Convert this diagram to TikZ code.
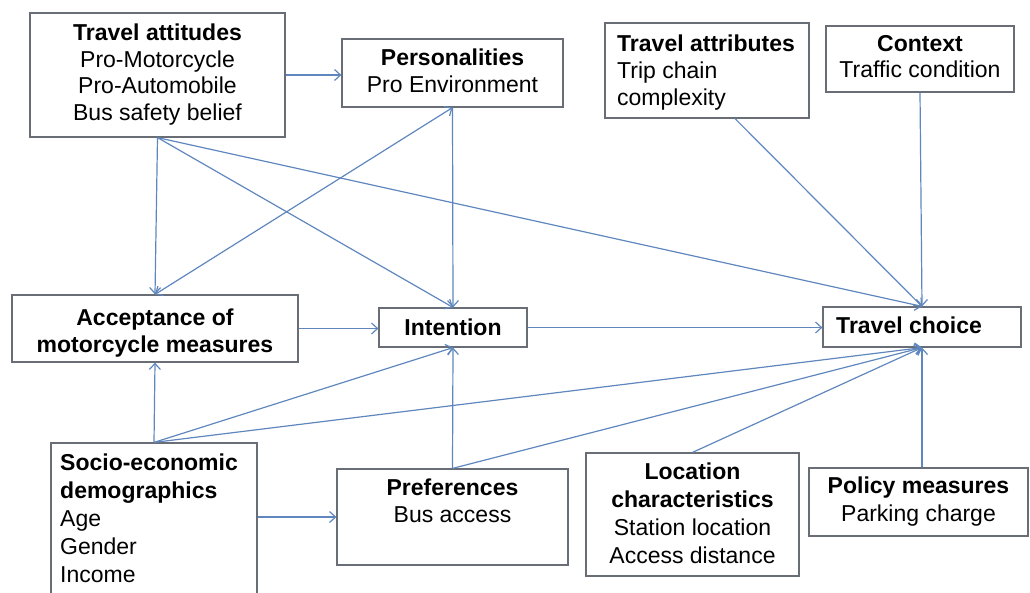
\documentclass[tikz,border=0pt]{standalone}
\usepackage{fontspec}
\setmainfont{Liberation Sans}
\usetikzlibrary{arrows.meta,calc}
\definecolor{arr}{RGB}{95,135,190}
\definecolor{bord}{RGB}{105,110,118}
\begin{document}
\begin{tikzpicture}[x=1pt,y=-1pt,
  >={Straight Barb[length=6pt,width=11pt]},
  box/.style={draw=bord,line width=1.2pt,rectangle,inner sep=0pt},
  txt/.style={inner sep=0pt,font=\fontsize{23}{26.7}\selectfont,text=black},
  txtb/.style={inner sep=0pt,font=\fontsize{23}{28}\selectfont,text=black},
  conn/.style={draw=arr,line width=1.2pt,->},
  conn2/.style={draw=arr,line width=1.2pt,<->},
]
\useasboundingbox (0,0) rectangle (1030,592);
\clip (0,0) rectangle (1030,592);

% boxes
\node[box,minimum width=255pt,minimum height=124pt] (ta) at (157.5,75) {};
\node[box,minimum width=221pt,minimum height=68pt] (pers) at (452.5,73) {};
\node[box,minimum width=204pt,minimum height=95pt] (tattr) at (707,70.5) {};
\node[box,minimum width=188pt,minimum height=66pt] (ctx) at (920,59) {};
\node[box,minimum width=286pt,minimum height=67pt] (acc) at (155,328.5) {};
\node[box,minimum width=148pt,minimum height=39pt] (int) at (453,327.5) {};
\node[box,minimum width=198pt,minimum height=40pt] (tc) at (922,327) {};
\node[box,minimum width=206pt,minimum height=177pt] (socio) at (154,531.5) {};
\node[box,minimum width=231pt,minimum height=96pt] (pref) at (452.5,517) {};
\node[box,minimum width=213pt,minimum height=123pt] (loc) at (692.5,514.5) {};
\node[box,minimum width=219pt,minimum height=68pt] (pol) at (918.5,502) {};

% texts
\node[txt,anchor=north,align=center] (ta-t) at (157.5,23.5)
  {\textbf{Travel attitudes}\\Pro-Motorcycle\\Pro-Automobile\\Bus safety belief};
\node[txt,anchor=north,align=center] (pers-t) at (452.5,48.5)
  {\textbf{Personalities}\\Pro Environment};
\node[txt,anchor=north west,align=left] (tattr-t) at (617,35)
  {\textbf{Travel attributes}\\Trip chain\\complexity};
\node[txt,anchor=north,align=center] (ctx-t) at (920,35)
  {\textbf{Context}\\Traffic condition};
\node[txt,anchor=north,align=center] (acc-t) at (155,308.5)
  {\textbf{Acceptance of}\\\textbf{motorcycle measures}};
\node[txt,anchor=north,align=center] (int-t) at (453,318.5)
  {\textbf{Intention}};
\node[txt,anchor=north west,align=left] (tc-t) at (836,316.5)
  {\textbf{Travel choice}};
\node[txtb,anchor=north west,align=left] (socio-t) at (60,453.5)
  {\textbf{Socio-economic}\\\textbf{demographics}\\Age\\Gender\\Income};
\node[txt,anchor=north,align=center] (pref-t) at (452.5,478.5)
  {\textbf{Preferences}\\Bus access};
\node[txtb,anchor=north,align=center] (loc-t) at (692.5,462.5)
  {\textbf{Location}\\\textbf{characteristics}\\Station location\\Access distance};
\node[txtb,anchor=north,align=center] (pol-t) at (918.5,476.5)
  {\textbf{Policy measures}\\Parking charge};

% connectors
\coordinate (tattrp) at ($(tattr.south)+(28,0)$);
\draw[conn] (ta.east) -- (ta.east -| pers.west);
\draw[conn] (ta.south) -- (acc.north);
\draw[conn] (ta.south) -- (int.north);
\draw[conn] (ta.south) -- (tc.north);
\draw[conn2] (acc.north) -- (pers.south);
\draw[conn] (pers.south) -- (int.north);
\draw[conn] (tattrp) -- (tc.north);
\draw[conn] (ctx.south) -- (tc.north);
\draw[conn] (acc.east) -- (acc.east -| int.west);
\draw[conn] (int.east) -- (int.east -| tc.west);
\draw[conn] (socio.north) -- (acc.south);
\draw[conn] (socio.north) -- (int.south);
\draw[conn] (socio.north) -- (tc.south);
\draw[conn] (pref.west -| socio.east) -- (pref.west);
\draw[conn] (pref.north) -- (int.south);
\draw[conn] (pref.north) -- (tc.south);
\draw[conn] (loc.north) -- (tc.south);
\draw[conn] (tc.south |- pol.north) -- (tc.south);
\end{tikzpicture}
\end{document}
